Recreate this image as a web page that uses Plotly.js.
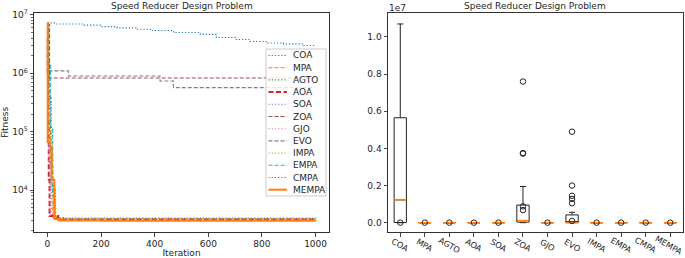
<!DOCTYPE html>
<html><head><meta charset="utf-8">
<script src="https://cdn.plot.ly/plotly-3.0.1.min.js"></script>
<style>html,body{margin:0;padding:0;background:#fff}#chart{width:685px;height:258px}</style>
</head><body><div id="chart"></div>
<script>
// ---------- DATA ----------
const algorithms = ['COA','MPA','AGTO','AOA','SOA','ZOA','GJO','EVO','IMPA','EMPA','CMPA','MEMPA'];

// convergence curves: iterations where best fitness changes, and the fitness from there on
const coaIter  = [0, 30, 135, 200, 260, 330, 384, 470, 570, 630, 700, 755, 820, 880, 950, 1000];
const coaFit   = [7.3e6, 7.0e6, 6.7e6, 6.3e6, 6.0e6, 5.7e6, 5.4e6, 5.0e6, 4.65e6, 4.1e6, 3.8e6, 3.5e6, 3.3e6, 3.2e6, 3.0e6, 2.94e6];
const mpaIter  = [0, 2, 6, 12, 20, 35, 1000];
const mpaFit   = [6.5e6, 1.8e6, 2.5e5, 2.5e4, 3500, 3050, 3000];
const agtoIter = [0, 3, 9, 18, 30, 60, 1000];
const agtoFit  = [6.0e6, 1.2e6, 1.0e5, 1.0e4, 3400, 3320, 3300];
const aoaIter  = [0, 1, 3, 5, 8, 40, 1000];
const aoaFit   = [4.0e6, 1.0e6, 1.5e5, 1.5e4, 3600, 3200, 3140];
const soaIter  = [0, 2, 6, 14, 25, 1000];
const soaFit   = [5.0e6, 5.0e5, 3.0e4, 3600, 3250, 3200];
const zoaIter  = [0, 8, 1000];
const zoaFit   = [6.9e6, 8.3e5, 8.3e5];
const gjoIter  = [0, 2, 5, 10, 20, 1000];
const gjoFit   = [5.5e6, 6.0e5, 3.0e4, 3800, 3250, 3220];
const evoIter  = [0, 5, 78, 420, 470, 1000];
const evoFit   = [7.0e6, 1.1e6, 9.0e5, 7.4e5, 5.7e5, 5.7e5];
const impaIter = [0, 3, 10, 20, 32, 1000];
const impaFit  = [6.0e6, 8.0e5, 4.0e4, 5000, 3250, 3180];
const empaIter = [0, 4, 12, 20, 28, 60, 1000];
const empaFit  = [6.5e6, 1.5e6, 1.2e5, 8.0e3, 3150, 3020, 3000];
const cmpaIter = [0, 5, 14, 24, 40, 1000];
const cmpaFit  = [6.0e6, 4.0e5, 1.2e4, 3200, 3050, 3010];
const mempaIter= [0, 1, 10, 16, 26, 45, 200, 1000];
const mempaFit = [7.3e6, 6.7e4, 5.3e4, 1.5e4, 3200, 3020, 3000, 2994];

// box plot statistics (final fitness over runs)
const boxLower  = [2994, 2996, 3300, 3140, 3200, 3000, 3220, 2998, 3180, 3000, 3010, 2994];
const boxQ1     = [8.0e3, 2998, 3300, 3140, 3200, 3.2e4, 3220, 3000, 3180, 3000, 3010, 2994];
const boxMedian = [1.23e6, 3000, 3300, 3150, 3200, 1.2e5, 3225, 3100, 3185, 3000, 3010, 2994];
const boxQ3     = [5.65e6, 3000, 3310, 3160, 3210, 9.5e5, 3230, 4.2e5, 3190, 3005, 3012, 2995];
const boxUpper  = [1.07e7, 3002, 3320, 3170, 3220, 1.95e6, 3240, 5.6e5, 3200, 3010, 3015, 2996];
const flierAlg  = ['COA','MPA','AGTO','AOA','SOA','ZOA','ZOA','ZOA','ZOA','ZOA','GJO','EVO','EVO','EVO','EVO','EVO','EVO','IMPA','EMPA','CMPA','MEMPA'];
const flierVal  = [3000, 3100, 3400, 3300, 3300, 7.6e6, 3.75e6, 3.72e6, 8.8e5, 6.8e5, 3300, 4.9e6, 2.0e6, 1.45e6, 1.28e6, 1.05e6, 1.0e5, 3300, 3100, 3100, 3000];

const xTickVals = [0, 200, 400, 600, 800, 1000];
const yLogTickVals = [1e4, 1e5, 1e6, 1e7];
const yLogTickText = ['10<sup>4</sup>', '10<sup>5</sup>', '10<sup>6</sup>', '10<sup>7</sup>'];
const yBoxTickVals = [0, 2e6, 4e6, 6e6, 8e6, 1e7];
const yBoxTickText = ['0.0', '0.2', '0.4', '0.6', '0.8', '1.0'];

// ---------- STYLES ----------
const DOT = '1.2px,2px', DASH = '4px,2px';
const seriesData = [
  [coaIter, coaFit], [mpaIter, mpaFit], [agtoIter, agtoFit], [aoaIter, aoaFit],
  [soaIter, soaFit], [zoaIter, zoaFit], [gjoIter, gjoFit], [evoIter, evoFit],
  [impaIter, impaFit], [empaIter, empaFit], [cmpaIter, cmpaFit], [mempaIter, mempaFit]
];
const seriesStyle = [
  {color:'#1f77b4', dash:DOT,  width:1.1},
  {color:'#ff7f0e', dash:DASH, width:1.1},
  {color:'#2ca02c', dash:DOT,  width:1.1},
  {color:'#d62728', dash:'5px,2.5px', width:2},
  {color:'#9467bd', dash:DOT,  width:1.1},
  {color:'#8c564b', dash:DASH, width:1.1},
  {color:'#e377c2', dash:DOT,  width:1.1},
  {color:'#7f7f7f', dash:DASH, width:1.1},
  {color:'#bcbd22', dash:DOT,  width:1.1},
  {color:'#17becf', dash:DASH, width:1.1},
  {color:'#1f77b4', dash:DOT,  width:1.1},
  {color:'#ff7f0e', dash:'solid', width:2}
];

const W = 685, H = 258;
const px = v => v / W, py = v => 1 - v / H;
const INK = '#262626', AX = '#333333';
const FS = 9, FS_CAT = 8.2;

const traces = [];
algorithms.forEach((name, i) => {
  traces.push({
    type:'scatter', mode:'lines', name, x: seriesData[i][0], y: seriesData[i][1],
    xaxis:'x', yaxis:'y', line:{shape:'hv', color:seriesStyle[i].color, dash:seriesStyle[i].dash, width:seriesStyle[i].width},
    hoverinfo:'skip', showlegend:false
  });
});
traces.push({
  type:'box', x: algorithms, q1: boxQ1, median: boxMedian, q3: boxQ3, lowerfence: boxLower, upperfence: boxUpper,
  xaxis:'x2', yaxis:'y2', width:0.5, whiskerwidth:0.5, boxpoints:false,
  line:{color:'#222', width:1}, fillcolor:'rgba(0,0,0,0)', showlegend:false, hoverinfo:'skip'
});
traces.push({
  type:'box', x: algorithms, q1: boxMedian, median: boxMedian, q3: boxMedian, lowerfence: boxMedian, upperfence: boxMedian,
  xaxis:'x2', yaxis:'y2', width:0.5, whiskerwidth:0, boxpoints:false,
  line:{color:'#ff7f0e', width:1}, fillcolor:'rgba(0,0,0,0)', showlegend:false, hoverinfo:'skip'
});
traces.push({
  type:'scatter', mode:'markers', x: flierAlg, y: flierVal, xaxis:'x2', yaxis:'y2',
  marker:{symbol:'circle-open', size:5.5, color:'#222', line:{width:1, color:'#222'}},
  showlegend:false, hoverinfo:'skip'
});

// minor ticks of the log axis
const minorTicks = [];
for (let e = 3; e <= 6; e++) for (let k = 2; k <= 9; k++) minorTicks.push(k * Math.pow(10, e));

const axCommon = {
  ticks:'outside', ticklen:3.5, tickwidth:0.9, tickcolor:AX, showline:true, mirror:true,
  linecolor:AX, linewidth:1, showgrid:false, zeroline:false, tickfont:{size:FS, color:INK}
};

const shapes = [], annotations = [];
// manual legend (matplotlib-style, compact)
shapes.push({type:'rect', xref:'paper', yref:'paper', x0:px(266), x1:px(326), y0:py(196), y1:py(49),
  fillcolor:'rgba(255,255,255,0.8)', line:{color:'#cccccc', width:1}, layer:'above'});
algorithms.forEach((name, i) => {
  const yy = 55.5 + i * 12.2;
  const st = seriesStyle[i];
  shapes.push({type:'line', xref:'paper', yref:'paper', x0:px(268.5), x1:px(287), y0:py(yy), y1:py(yy),
    line:{color:st.color, dash:st.dash, width:st.width}, layer:'above'});
  annotations.push({xref:'paper', yref:'paper', x:px(291), y:py(yy), xanchor:'left', yanchor:'middle',
    text:name, showarrow:false, font:{size:FS, color:INK}});
});
// titles
annotations.push({xref:'paper', yref:'paper', x:px(181.5), y:py(6), xanchor:'center', yanchor:'middle',
  text:'Speed Reducer Design Problem', showarrow:false, font:{size:FS, color:INK}});
annotations.push({xref:'paper', yref:'paper', x:px(535), y:py(6), xanchor:'center', yanchor:'middle',
  text:'Speed Reducer Design Problem', showarrow:false, font:{size:FS, color:INK}});
annotations.push({xref:'paper', yref:'paper', x:px(387), y:py(8), xanchor:'left', yanchor:'middle',
  text:'1e7', showarrow:false, font:{size:FS, color:INK}});
// rotated category labels
algorithms.forEach((name, i) => {
  annotations.push({xref:'x2', yref:'paper', x:name, y:py(245), xanchor:'center', yanchor:'middle',
    xshift: i === algorithms.length - 1 ? -1.5 : 0,
    text:name, textangle:30, showarrow:false, font:{size:FS_CAT, color:INK}});
});

const layout = {
  width:W, height:H, margin:{l:0, r:0, t:0, b:0},
  paper_bgcolor:'#ffffff', plot_bgcolor:'#ffffff',
  font:{family:'DejaVu Sans, sans-serif', size:FS, color:INK},
  showlegend:false, boxmode:'overlay',
  xaxis: Object.assign({}, axCommon, {domain:[px(34), px(329)], range:[-50, 1050], tickvals:xTickVals,
    anchor:'y', title:{text:'Iteration', standoff:3, font:{size:FS, color:INK}}}),
  yaxis: Object.assign({}, axCommon, {domain:[py(232), py(13)], type:'log', range:[3.283, 7.033],
    tickvals:yLogTickVals, ticktext:yLogTickText, anchor:'x',
    minor:{tickvals:minorTicks, ticks:'outside', ticklen:2, tickwidth:0.7, tickcolor:AX},
    title:{text:'Fitness', standoff:3, font:{size:FS, color:INK}}}),
  xaxis2: Object.assign({}, axCommon, {domain:[px(388), px(682.5)], type:'category', categoryorder:'array',
    categoryarray:algorithms, range:[-0.5, 11.5], showticklabels:false, anchor:'y2'}),
  yaxis2: Object.assign({}, axCommon, {domain:[py(232), py(13)], range:[-5e5, 1.129e7],
    tickvals:yBoxTickVals, ticktext:yBoxTickText, anchor:'x2'}),
  shapes, annotations
};

Plotly.newPlot('chart', traces, layout, {staticPlot:true, displayModeBar:false});
</script>
</body></html>
